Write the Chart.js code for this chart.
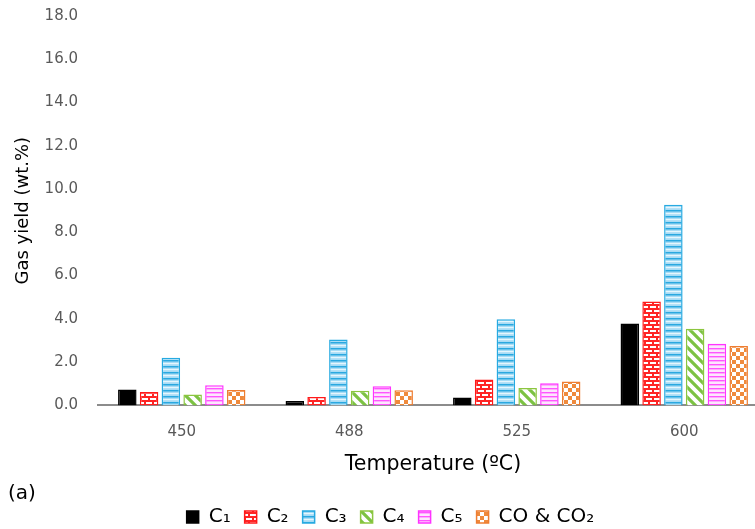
<!DOCTYPE html>
<html>
<head>
<meta charset="utf-8">
<script src="https://cdn.jsdelivr.net/npm/chart.js@4/dist/chart.umd.min.js"></script>
<style>
  html, body { margin: 0; padding: 0; background: #fff; overflow: hidden; }
  #wrap { position: relative; width: 772px; height: 529px; }
  #tag { position: absolute; left: 8px; top: 480px; font: 20px 'DejaVu Sans', sans-serif; color: #000; }
</style>
</head>
<body>
<div id="wrap">
  <canvas id="c" width="772" height="529"></canvas>
  <div id="tag">(a)</div>
</div>
<script>
// Gas yield (wt.%) by pyrolysis temperature
const temperatures = ['450', '488', '525', '600'];
const seriesNames = ['C\u2081', 'C\u2082', 'C\u2083', 'C\u2084', 'C\u2085', 'CO & CO\u2082'];
const c1 = [0.73, 0.20, 0.37, 3.79];
const c2 = [0.62, 0.39, 1.20, 4.80];
const c3 = [2.20, 3.05, 3.98, 9.27];
const c4 = [0.50, 0.68, 0.80, 3.54];
const c5 = [0.93, 0.88, 1.02, 2.85];
const coCo2 = [0.71, 0.70, 1.11, 2.74];
const yTicks = [0, 2, 4, 6, 8, 10, 12, 14, 16, 18];

function tile(w, h, draw) {
  const t = document.createElement('canvas');
  t.width = w; t.height = h;
  const g = t.getContext('2d');
  draw(g);
  return document.getElementById('c').getContext('2d').createPattern(t, 'repeat');
}

// fill patterns for each gas
const brick = tile(8, 8, g => {
  g.fillStyle = '#fff'; g.fillRect(0, 0, 8, 8);
  g.fillStyle = '#ff2424';
  g.fillRect(0, 0, 8, 2); g.fillRect(0, 4, 8, 2);
  g.fillRect(0, 0, 2, 4); g.fillRect(4, 4, 2, 4);
});
const blueStripe = tile(6, 6, g => {
  g.fillStyle = '#a8dcf5'; g.fillRect(0, 0, 6, 6);
  g.fillStyle = '#2aa8e0'; g.fillRect(0, 0, 6, 1.5);
  g.fillStyle = '#e6f6fd'; g.fillRect(0, 3, 6, 1.2);
});
const greenDiag = tile(10, 10, g => {
  g.fillStyle = '#fff'; g.fillRect(0, 0, 10, 10);
  g.strokeStyle = '#7cc242'; g.lineWidth = 3.2;
  g.beginPath();
  g.moveTo(-2, -2); g.lineTo(12, 12);
  g.moveTo(-7, 3); g.lineTo(3, 13);
  g.moveTo(3, -7); g.lineTo(13, 3);
  g.stroke();
});
const pinkStripe = tile(4, 4, g => {
  g.fillStyle = '#fde6fd'; g.fillRect(0, 0, 4, 4);
  g.fillStyle = '#ff55ff'; g.fillRect(0, 0, 4, 1.4);
});
const checker = tile(8, 8, g => {
  g.fillStyle = '#ef8a3c'; g.fillRect(0, 0, 8, 8);
  g.fillStyle = '#fff'; g.fillRect(0, 0, 4, 4); g.fillRect(4, 4, 4, 4);
});

const fills = ['#000000', brick, blueStripe, greenDiag, pinkStripe, checker];
const borders = ['#000000', '#ff1a1a', '#27aae1', '#8cc63f', '#ff33ff', '#ee7d31'];
const values = [c1, c2, c3, c4, c5, coCo2];

const font = "'DejaVu Sans', sans-serif";

new Chart(document.getElementById('c'), {
  type: 'bar',
  data: {
    labels: temperatures,
    datasets: seriesNames.map((name, i) => ({
      label: name,
      data: values[i],
      backgroundColor: fills[i],
      borderColor: borders[i],
      borderWidth: 1.5,
      categoryPercentage: 0.78,
      barPercentage: 0.85
    }))
  },
  options: {
    responsive: false,
    animation: false,
    layout: { padding: { left: 13, right: 4, top: 0, bottom: -8 } },
    plugins: {
      tooltip: { enabled: false },
      legend: {
        position: 'bottom',
        labels: {
          boxWidth: 12, boxHeight: 12, padding: 14,
          color: '#000',
          font: { family: font, size: 20 }
        }
      }
    },
    scales: {
      x: {
        grid: { display: false, drawTicks: false },
        border: { display: true, color: '#8c8c8c', width: 2 },
        ticks: { color: '#595959', padding: 18, font: { family: font, size: 15 } },
        title: { display: true, text: 'Temperature (\u00baC)', color: '#000', padding: { top: -7, bottom: 16 }, font: { family: font, size: 20.5 } }
      },
      y: {
        min: 0, max: 18,
        afterBuildTicks: ax => { ax.ticks = yTicks.map(v => ({ value: v })); },
        // keep only half a label of room above the top tick
        afterFit: ax => { ax.paddingTop = 16; },
        grid: { display: false, drawTicks: false },
        border: { display: false },
        ticks: { color: '#595959', padding: 20, callback: v => v.toFixed(1), font: { family: font, size: 15 } },
        title: { display: true, text: 'Gas yield (wt.%)', color: '#000', padding: { top: 0, bottom: -10 }, font: { family: font, size: 18 } }
      }
    }
  }
});
</script>
</body>
</html>
